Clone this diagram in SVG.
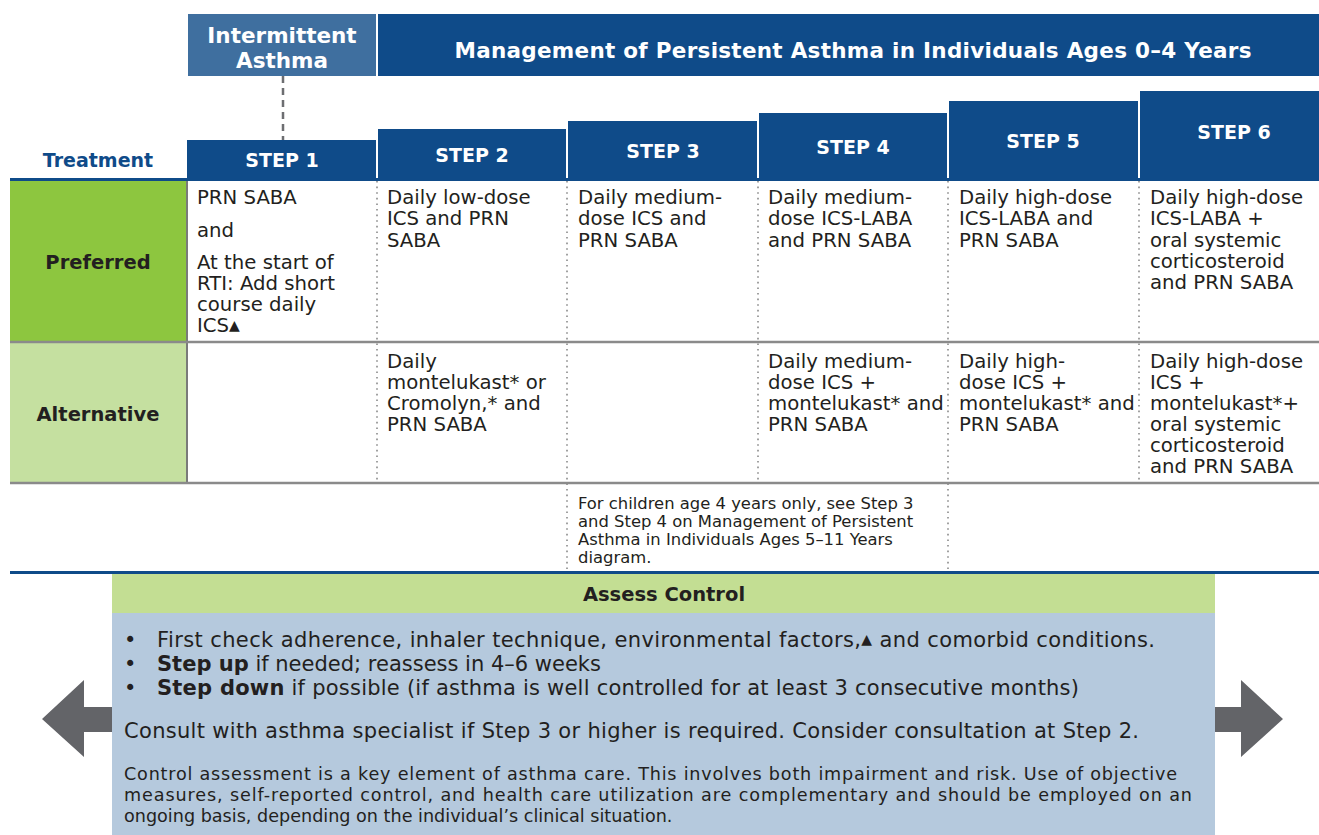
<svg xmlns="http://www.w3.org/2000/svg" width="1319" height="835" viewBox="0 0 1319 835">
<style>
.hd{fill:#0f4b89}
.wt{fill:#fff;font-family:"DejaVu Sans",sans-serif;font-weight:bold}
.cell{fill:#231f20;font-family:"DejaVu Sans",sans-serif;font-size:19.7px}
.lab{fill:#231f20;font-family:"DejaVu Sans",sans-serif;font-weight:bold;font-size:19.5px;text-anchor:middle}
.sm{fill:#231f20;font-family:"DejaVu Sans",sans-serif;font-size:16.4px}
.bx{fill:#231f20;font-family:"DejaVu Sans",sans-serif;font-size:21px}
.bs{fill:#231f20;font-family:"DejaVu Sans",sans-serif;font-size:17.6px}
.dot{stroke:#8a8a8a;stroke-width:1.6;stroke-dasharray:1.6 4;fill:none}
.sep{stroke:#8a8a8a;stroke-width:2.5;fill:none}
.tri{font-size:14px}
</style>
<rect width="1319" height="835" fill="#fff"/>
<g id="header-intermittent">
<rect x="188" y="14" width="188" height="62" fill="#3f6f9f"/>
<text class="wt" x="282" y="43" font-size="21.5" text-anchor="middle">Intermittent</text>
<text class="wt" x="282" y="68" font-size="21.5" text-anchor="middle">Asthma</text>
</g>
<g id="header-persistent">
<rect x="378" y="14" width="941" height="62" class="hd"/>
<text class="wt" x="853" y="58" font-size="21.5" text-anchor="middle" textLength="797" lengthAdjust="spacing">Management of Persistent Asthma in Individuals Ages 0–4 Years</text>
</g>
<g id="connectors">
<line x1="283" y1="76" x2="283" y2="140" stroke="#6d6e71" stroke-width="2.5" stroke-dasharray="7 5"/>
</g>
<g id="treatment-label">
<text x="98" y="167" font-family="DejaVu Sans,sans-serif" font-weight="bold" font-size="19" fill="#0f4b89" text-anchor="middle">Treatment</text>
</g>
<g id="step1"><rect x="187" y="140" width="189" height="39" class="hd"/><text class="wt" x="282" y="167" font-size="19" text-anchor="middle">STEP 1</text></g>
<g id="step2"><rect x="378" y="129" width="188" height="50" class="hd"/><text class="wt" x="472" y="162" font-size="19" text-anchor="middle">STEP 2</text></g>
<g id="step3"><rect x="568" y="121" width="189" height="58" class="hd"/><text class="wt" x="663" y="158" font-size="19" text-anchor="middle">STEP 3</text></g>
<g id="step4"><rect x="759" y="113" width="188" height="66" class="hd"/><text class="wt" x="853" y="154" font-size="19" text-anchor="middle">STEP 4</text></g>
<g id="step5"><rect x="949" y="101" width="189" height="78" class="hd"/><text class="wt" x="1043" y="148" font-size="19" text-anchor="middle">STEP 5</text></g>
<g id="step6"><rect x="1140" y="91" width="179" height="88" class="hd"/><text class="wt" x="1234" y="139" font-size="19" text-anchor="middle">STEP 6</text></g>
<g id="grid">
<rect x="10" y="178" width="1309" height="3" class="hd"/>
<rect x="10" y="181" width="176" height="160" fill="#8dc63f"/>
<rect x="10" y="343" width="176" height="139" fill="#c5e0a0"/>
<line x1="187" y1="181" x2="187" y2="483" stroke="#7a7a7a" stroke-width="2"/>
<line x1="10" y1="342" x2="1319" y2="342" class="sep"/>
<line x1="10" y1="483" x2="1319" y2="483" class="sep"/>
<line x1="377" y1="181" x2="377" y2="482" class="dot"/>
<line x1="567" y1="181" x2="567" y2="571" class="dot"/>
<line x1="758" y1="181" x2="758" y2="482" class="dot"/>
<line x1="948" y1="181" x2="948" y2="571" class="dot"/>
<line x1="1139" y1="181" x2="1139" y2="482" class="dot"/>
<rect x="10" y="571" width="1309" height="3" class="hd"/>
</g>
<g id="row-labels">
<text class="lab" x="98" y="269">Preferred</text>
<text class="lab" x="98" y="421">Alternative</text>
</g>
<g id="preferred-cells">
<text class="cell" x="197" y="204">PRN SABA</text>
<text class="cell" x="197" y="237">and</text>
<text class="cell" x="197" y="269">At the start of</text>
<text class="cell" x="197" y="290">RTI: Add short</text>
<text class="cell" x="197" y="311">course daily</text>
<text class="cell" x="197" y="332">ICS<tspan class="tri" dy="-2">▲</tspan></text>
<text class="cell" x="387" y="204">Daily low-dose</text>
<text class="cell" x="387" y="225">ICS and PRN</text>
<text class="cell" x="387" y="247">SABA</text>
<text class="cell" x="578" y="204">Daily medium-</text>
<text class="cell" x="578" y="225">dose ICS and</text>
<text class="cell" x="578" y="247">PRN SABA</text>
<text class="cell" x="768" y="204">Daily medium-</text>
<text class="cell" x="768" y="225">dose ICS-LABA</text>
<text class="cell" x="768" y="247">and PRN SABA</text>
<text class="cell" x="959" y="204">Daily high-dose</text>
<text class="cell" x="959" y="225">ICS-LABA and</text>
<text class="cell" x="959" y="247">PRN SABA</text>
<text class="cell" x="1150" y="204">Daily high-dose</text>
<text class="cell" x="1150" y="225">ICS-LABA +</text>
<text class="cell" x="1150" y="247">oral systemic</text>
<text class="cell" x="1150" y="268">corticosteroid</text>
<text class="cell" x="1150" y="289">and PRN SABA</text>
</g>
<g id="alternative-cells">
<text class="cell" x="387" y="368">Daily</text>
<text class="cell" x="387" y="389">montelukast* or</text>
<text class="cell" x="387" y="410">Cromolyn,* and</text>
<text class="cell" x="387" y="431">PRN SABA</text>
<text class="cell" x="768" y="368">Daily medium-</text>
<text class="cell" x="768" y="389">dose ICS +</text>
<text class="cell" x="768" y="410">montelukast* and</text>
<text class="cell" x="768" y="431">PRN SABA</text>
<text class="cell" x="959" y="368">Daily high-</text>
<text class="cell" x="959" y="389">dose ICS +</text>
<text class="cell" x="959" y="410">montelukast* and</text>
<text class="cell" x="959" y="431">PRN SABA</text>
<text class="cell" x="1150" y="368">Daily high-dose</text>
<text class="cell" x="1150" y="389">ICS +</text>
<text class="cell" x="1150" y="410">montelukast*+</text>
<text class="cell" x="1150" y="431">oral systemic</text>
<text class="cell" x="1150" y="452">corticosteroid</text>
<text class="cell" x="1150" y="473">and PRN SABA</text>
</g>
<g id="note">
<text class="sm" x="578" y="509">For children age 4 years only, see Step 3</text>
<text class="sm" x="578" y="527">and Step 4 on Management of Persistent</text>
<text class="sm" x="578" y="545">Asthma in Individuals Ages 5–11 Years</text>
<text class="sm" x="578" y="563">diagram.</text>
</g>
<g id="arrow-left"><polygon points="42,719 84,680 84,707 112,707 112,732 84,732 84,757" fill="#636468"/></g>
<g id="arrow-right"><polygon points="1283,719 1241,680 1241,707 1215,707 1215,732 1241,732 1241,757" fill="#636468"/></g>
<g id="assess-control">
<rect x="112" y="574" width="1103" height="39" fill="#c3de93"/>
<rect x="112" y="613" width="1103" height="222" fill="#b5c9dd"/>
<text x="664" y="601" font-family="DejaVu Sans,sans-serif" font-weight="bold" font-size="19.5" fill="#231f20" text-anchor="middle">Assess Control</text>
<text class="bx" x="124" y="647">•</text>
<text class="bx" x="124" y="671">•</text>
<text class="bx" x="124" y="695">•</text>
<text class="bx" x="157" y="647" textLength="998" lengthAdjust="spacing">First check adherence, inhaler technique, environmental factors,<tspan class="tri" dy="-3">▲</tspan><tspan dy="3"> and comorbid conditions.</tspan></text>
<text class="bx" x="157" y="671"><tspan font-weight="bold">Step up</tspan> if needed; reassess in 4–6 weeks</text>
<text class="bx" x="157" y="695" textLength="922" lengthAdjust="spacing"><tspan font-weight="bold">Step down</tspan> if possible (if asthma is well controlled for at least 3 consecutive months)</text>
<text class="bx" x="124" y="738" textLength="1015" lengthAdjust="spacing">Consult with asthma specialist if Step 3 or higher is required. Consider consultation at Step 2.</text>
<text class="bs" x="124" y="780" textLength="1053" lengthAdjust="spacing">Control assessment is a key element of asthma care. This involves both impairment and risk. Use of objective</text>
<text class="bs" x="124" y="801" textLength="1068" lengthAdjust="spacing">measures, self-reported control, and health care utilization are complementary and should be employed on an</text>
<text class="bs" x="124" y="822">ongoing basis, depending on the individual’s clinical situation.</text>
</g>
</svg>
